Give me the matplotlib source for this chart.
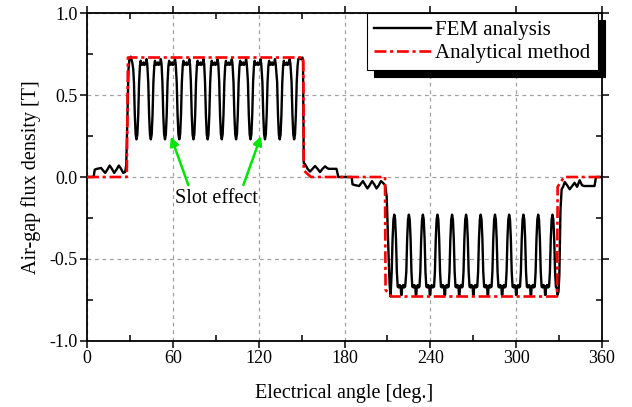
import numpy as np
import matplotlib
matplotlib.use("Agg")
import matplotlib.pyplot as plt
from matplotlib.ticker import MultipleLocator, FormatStrFormatter

# Analytical trapezoid (angle in deg., flux in T)
ANA_ANGLE = [0, 27.8, 28.6, 151.2, 151.5, 156.5, 208.3, 208.7, 213.0, 328.6, 329.0, 333.5, 360]
ANA_FLUX = [0, 0, 0.73, 0.73, 0.04, 0, 0, -0.69, -0.73, -0.73, -0.06, 0, 0]

# FEM curve
FEM_LEAD = [
    (0.0, 0.0), (4.6, 0.0), (5.4, 0.045), (7.0, 0.05), (9.8, 0.055), (11.3, 0.04),
    (12.7, 0.025), (14.2, 0.045), (15.8, 0.07), (17.4, 0.05), (19.0, 0.025),
    (20.6, 0.045), (22.2, 0.07), (23.8, 0.05), (25.3, 0.025), (26.6, 0.03),
    (27.4, 0.07), (28.2, 0.35), (29.0, 0.66), (29.7, 0.725), (30.6, 0.735),
    (31.6, 0.70), (32.3, 0.66),
]

FEM_POS_POLE = [
    (32.8, .58), (33.4, .38), (34.0, .26), (34.6, .23), (35.2, .26), (35.8, .38), (36.4, .58), (37.0, .68),
    (37.5, .71), (38.2, .685), (39.2, .69), (39.6, .70), (40.0, .685), (41.0, .69), (41.6, .72), (42.1, .69),
    (42.8, .58), (43.4, .38), (44.0, .26), (44.6, .23), (45.2, .26), (45.8, .38), (46.4, .58), (47.0, .68),
    (47.5, .71), (48.2, .685), (49.2, .69), (49.6, .70), (50.0, .685), (51.0, .69), (51.6, .72), (52.1, .69),
    (52.7, .58), (53.3, .38), (53.9, .26), (54.5, .23), (55.1, .26), (55.7, .38), (56.3, .58), (56.9, .68),
    (57.4, .71), (58.1, .685), (59.1, .69), (59.5, .70), (59.9, .685), (60.9, .69), (61.5, .72), (62.0, .69),
    (62.7, .58), (63.3, .38), (63.9, .26), (64.5, .23), (65.1, .26), (65.7, .38), (66.3, .58), (66.9, .68),
    (67.4, .71), (68.1, .685), (69.1, .69), (69.5, .70), (69.9, .685), (70.9, .69), (71.5, .72), (72.0, .69),
    (72.6, .58), (73.2, .38), (73.8, .26), (74.4, .23), (75.0, .26), (75.6, .38), (76.2, .58), (76.8, .68),
    (77.3, .71), (78.0, .685), (79.0, .69), (79.4, .70), (79.8, .685), (80.8, .69), (81.4, .72), (81.9, .69),
    (82.5, .58), (83.1, .38), (83.7, .26), (84.3, .23), (84.9, .26), (85.5, .38), (86.1, .58), (86.7, .68),
    (87.2, .71), (87.9, .685), (88.9, .69), (89.3, .70), (89.7, .685), (90.7, .69), (91.3, .72), (91.8, .69),
    (92.4, .58), (93.0, .38), (93.6, .26), (94.2, .23), (94.8, .26), (95.4, .38), (96.0, .58), (96.6, .68),
    (97.1, .71), (97.8, .685), (98.8, .69), (99.2, .70), (99.6, .685), (100.6, .69), (101.2, .72), (101.7, .69),
    (102.4, .58), (103.0, .38), (103.6, .26), (104.2, .23), (104.8, .26), (105.4, .38), (106.0, .58), (106.6, .68),
    (107.1, .71), (107.8, .685), (108.8, .69), (109.2, .70), (109.6, .685), (110.6, .69), (111.2, .72), (111.7, .69),
    (112.5, .58), (113.1, .38), (113.7, .26), (114.3, .23), (114.9, .26), (115.5, .38), (116.1, .58), (116.7, .68),
    (117.2, .71), (117.9, .685), (118.9, .69), (119.3, .70), (119.7, .685), (120.7, .69), (121.3, .72), (121.8, .69),
    (122.6, .58), (123.2, .38), (123.8, .26), (124.4, .23), (125.0, .26), (125.6, .38), (126.2, .58), (126.8, .68),
    (127.3, .71), (128.0, .685), (129.0, .69), (129.4, .70), (129.8, .685), (130.8, .69), (131.4, .72), (131.9, .69),
    (132.9, .58), (133.5, .38), (134.1, .26), (134.7, .23), (135.3, .26), (135.9, .38), (136.5, .58), (137.1, .68),
    (137.6, .71), (138.3, .685), (139.3, .69), (139.7, .70), (140.1, .685), (141.1, .69), (141.7, .72), (142.2, .69),
    (143.0, .58), (143.6, .38), (144.2, .26), (144.8, .23), (145.4, .26), (146.0, .38), (146.6, .58), (147.2, .68),
    (147.7, .72), (148.5, .73), (149.5, .72), (150.6, .73), (151.0, .70), (151.3, .30), (151.5, .085),
]

FEM_MID = [
    (152.3, 0.08), (154.2, 0.05), (155.9, 0.033), (157.6, 0.05), (159.4, 0.067), (161.2, 0.05),
    (162.9, 0.03), (164.6, 0.05), (166.4, 0.065), (167.8, 0.055), (169.0, 0.05), (174.4, 0.05),
    (175.7, 0.0), (185.0, 0.0), (185.6, -0.045), (187.5, -0.05), (190.2, -0.055), (191.5, -0.04),
    (192.9, -0.025), (194.3, -0.045), (196.0, -0.07), (197.6, -0.05), (199.2, -0.025),
    (200.8, -0.045), (202.4, -0.07), (204.0, -0.05), (205.5, -0.025), (206.8, -0.035),
    (208.4, -0.05), (209.5, -0.12), (210.5, -0.40), (211.5, -0.65), (212.2, -0.73),
]

FEM_NEG_POLE = [
    (213.0, -.58), (213.6, -.38), (214.2, -.26), (214.8, -.23), (215.4, -.26), (216.0, -.38), (216.6, -.58), (217.2, -.67),
    (218.0, -.675), (218.6, -.66), (219.3, -.67), (219.6, -.72), (220.0, -.72), (220.3, -.67), (221.0, -.66), (221.6, -.675), (222.4, -.67),
    (223.2, -.58), (223.8, -.38), (224.4, -.26), (225.0, -.23), (225.6, -.26), (226.2, -.38), (226.8, -.58), (227.4, -.67),
    (228.2, -.675), (228.8, -.66), (229.5, -.67), (229.8, -.72), (230.2, -.72), (230.5, -.67), (231.2, -.66), (231.8, -.675), (232.4, -.67),
    (233.0, -.58), (233.6, -.38), (234.2, -.26), (234.8, -.23), (235.4, -.26), (236.0, -.38), (236.6, -.58), (237.2, -.67),
    (238.0, -.675), (238.6, -.66), (239.3, -.67), (239.6, -.72), (240.0, -.72), (240.3, -.67), (241.0, -.66), (241.6, -.675), (242.6, -.67),
    (243.2, -.58), (243.8, -.38), (244.4, -.26), (245.0, -.23), (245.6, -.26), (246.2, -.38), (246.8, -.58), (247.4, -.67),
    (248.2, -.675), (248.8, -.66), (249.6, -.67), (249.9, -.72), (250.3, -.72), (250.6, -.67), (251.4, -.66), (252.0, -.675), (252.8, -.67),
    (253.4, -.58), (254.0, -.38), (254.6, -.26), (255.2, -.23), (255.8, -.26), (256.4, -.38), (257.0, -.58), (257.6, -.67),
    (258.4, -.675), (259.0, -.66), (259.7, -.67), (260.0, -.72), (260.4, -.72), (260.7, -.67), (261.4, -.66), (262.0, -.675), (262.6, -.67),
    (263.2, -.58), (263.8, -.38), (264.4, -.26), (265.0, -.23), (265.6, -.26), (266.2, -.38), (266.8, -.58), (267.4, -.67),
    (268.2, -.675), (268.8, -.66), (269.6, -.67), (269.9, -.72), (270.3, -.72), (270.6, -.67), (271.4, -.66), (272.0, -.675), (272.8, -.67),
    (273.4, -.58), (274.0, -.38), (274.6, -.26), (275.2, -.23), (275.8, -.26), (276.4, -.38), (277.0, -.58), (277.6, -.67),
    (278.4, -.675), (279.0, -.66), (279.7, -.67), (280.0, -.72), (280.4, -.72), (280.7, -.67), (281.4, -.66), (282.0, -.675), (282.8, -.67),
    (283.4, -.58), (284.0, -.38), (284.6, -.26), (285.2, -.23), (285.8, -.26), (286.4, -.38), (287.0, -.58), (287.6, -.67),
    (288.4, -.675), (289.0, -.66), (289.7, -.67), (290.0, -.72), (290.4, -.72), (290.7, -.67), (291.4, -.66), (292.0, -.675), (292.7, -.67),
    (293.3, -.58), (293.9, -.38), (294.5, -.26), (295.1, -.23), (295.7, -.26), (296.3, -.38), (296.9, -.58), (297.5, -.67),
    (298.3, -.675), (298.9, -.66), (299.6, -.67), (299.9, -.72), (300.3, -.72), (300.6, -.67), (301.3, -.66), (301.9, -.675), (302.7, -.67),
    (303.3, -.58), (303.9, -.38), (304.5, -.26), (305.1, -.23), (305.7, -.26), (306.3, -.38), (306.9, -.58), (307.5, -.67),
    (308.3, -.675), (309.0, -.66), (309.8, -.67), (310.1, -.72), (310.5, -.72), (310.8, -.67), (311.6, -.66), (312.2, -.675), (313.0, -.67),
    (313.6, -.58), (314.2, -.38), (314.8, -.26), (315.4, -.23), (316.0, -.26), (316.6, -.38), (317.2, -.58), (317.8, -.67),
    (318.6, -.675), (319.2, -.66), (319.9, -.67), (320.2, -.72), (320.6, -.72), (320.9, -.67), (321.6, -.66), (322.2, -.675), (323.0, -.67),
    (323.6, -.58), (324.2, -.38), (324.8, -.26), (325.4, -.23), (326.0, -.26), (326.6, -.38), (327.2, -.58), (327.8, -.67),
    (328.4, -.68), (329.0, -.72), (329.6, -.70), (330.2, -.60), (331.0, -.20), (331.8, -.075),
]

FEM_TAIL = [
    (332.8, -0.06), (334.0, -0.03), (335.6, -0.05), (337.4, -0.075), (339.2, -0.055),
    (340.8, -0.035), (342.6, -0.06), (344.4, -0.02), (346.0, -0.05), (347.5, -0.055),
    (354.8, -0.055), (355.8, 0.0), (360.0, 0.0),
]

fem = FEM_LEAD + FEM_POS_POLE + FEM_MID + FEM_NEG_POLE + FEM_TAIL
fem_angle = [p[0] for p in fem]
fem_flux = [p[1] for p in fem]

plt.rcParams['font.family'] = ['Liberation Serif', 'DejaVu Serif']
plt.rcParams['axes.unicode_minus'] = False

fig = plt.figure(figsize=(6.32, 4.07), dpi=100)
ax = fig.add_axes([0.1377, 0.1629, 0.8148, 0.8044])

ax.plot(fem_angle, fem_flux, color='black', lw=1.7, label='FEM analysis', zorder=3)
ax.plot(ANA_ANGLE, ANA_FLUX, color='#ff0000', lw=1.9, dashes=(4.5, 1.4, 1.2, 1.4),
        label='Analytical method', zorder=4)

ax.set_xlim(0, 360)
ax.set_ylim(-1, 1)
ax.xaxis.set_major_locator(MultipleLocator(60))
ax.xaxis.set_minor_locator(MultipleLocator(30))
ax.yaxis.set_major_locator(MultipleLocator(0.5))
ax.yaxis.set_minor_locator(MultipleLocator(0.25))
ax.yaxis.set_major_formatter(FormatStrFormatter('%.1f'))

ax.grid(True, which='major', color='#a0a0a0', linestyle=(0, (3, 3)), lw=0.9)
ax.tick_params(which='major', direction='out', length=5, width=1.1, labelsize=13,
               top=True, right=True, pad=2)
ax.tick_params(which='minor', direction='in', length=4, width=1.1, top=True, right=True)
for s in ax.spines.values():
    s.set_linewidth(1.3)

ax.set_xlabel('Electrical angle [deg.]', fontsize=14.5, labelpad=12)
ax.set_ylabel('Air-gap flux density [T]', fontsize=14.5, labelpad=6)

# slot effect note
ax.text(90.5, -0.13, 'Slot effect', ha='center', va='center', fontsize=14.5)
arrow = dict(arrowstyle='-|>', color='#00e600', lw=1.8, mutation_scale=13, shrinkA=0, shrinkB=0)
ax.annotate('', xy=(58.7, 0.246), xytext=(70.8, -0.049), arrowprops=arrow)
ax.annotate('', xy=(121.6, 0.25), xytext=(109.3, -0.049), arrowprops=arrow)

leg = ax.legend(loc='upper right', bbox_to_anchor=(0.992, 1.0), borderaxespad=0,
                fontsize=15, fancybox=False, framealpha=1, edgecolor='black',
                handlelength=2.75, handletextpad=0.2, labelspacing=0.15, borderpad=0.35,
                shadow={'color': 'black', 'alpha': 1, 'ox': 5, 'oy': -5})
leg.get_frame().set_linewidth(0.8)

fig.savefig('out.png', dpi=100)
